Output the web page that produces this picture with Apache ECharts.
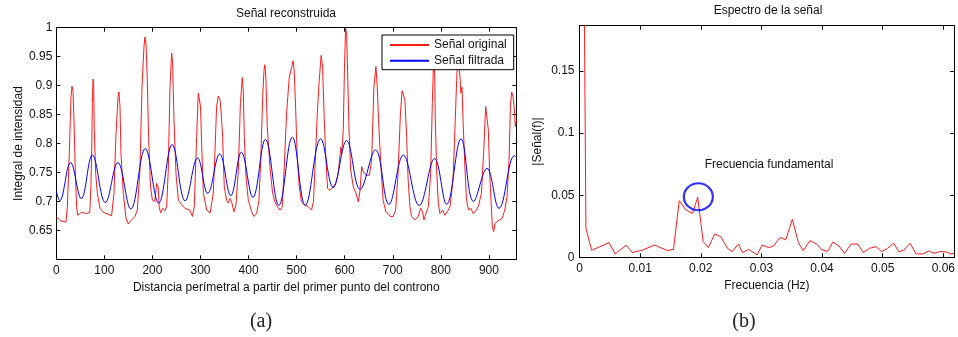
<!DOCTYPE html>
<html>
<head>
<meta charset="utf-8">
<script src="https://cdn.jsdelivr.net/npm/echarts@6/dist/echarts.min.js"></script>
<style>
html,body{margin:0;padding:0;background:#fff;}
#c{width:958px;height:337px;}
</style>
</head>
<body>
<div id="c"></div>
<script>
// ---- Left chart: reconstructed signal ----
var redX = [0,7.7,20,23,27,30.6,32.6,34.7,36.8,39.6,42.4,44.4,52.8,63,69.6,72,73.6,75,76.4,77.7,79,82,85.3,91,97.8,108,115,120,124,128.4,130.4,132.5,134.6,139.4,145,150,153,163.6,168.5,174,178.3,182.4,184.5,186.6,189.3,192,196,200,205,208.8,212,214,217,221,226,229.6,233,236.5,240,242,244.8,249,254,261,267.7,278,283,287,292,295.4,297.5,300,303,306,313,320,326.6,330,333.5,337,340.6,342.6,346,349.5,354.4,358,361.4,364.8,369.7,373.8,378.7,383,386.9,389,391.1,394.6,399.5,406.4,411.2,416.8,421.6,425.3,429.4,432.2,434,436.1,438.9,441,444.4,450,455,459.8,465.4,470,473.6,479,484.6,489.5,492.7,495,497.9,501,505.5,510,517,524,531,535,538,542.9,547,551,554,557.5,561,564.4,569.3,576,581,586.5,592,594,597,599.5,601.9,604,606,609,612.4,618,623.6,628.4,631.9,635.3,638.8,644.4,651.3,656,660.8,665,667.7,670.4,674.6,680,685.6,690.5,695,700.6,706,711,715.9,719.4,721.8,725.3,728.8,732,735.7,739,746,753,757.9,762,765,769,774,778.8,782.3,785,787,788.5,791.3,794.7,798,803.6,808.5,815.4,819,822.4,825.9,829.3,832.9,835.6,837.6,839.5,841.8,844,846.5,850,853.4,857.6,862.5,867.3,874,879,884.4,889,893.3,894.7,898.8,901.6,904.4,907.1,910,912.7,916.9,922.5,928,932.9,937.7,941.9,944.7,947.4,950.2,953,955,957];
var redY = [0.674,0.667,0.664,0.690,0.782,0.880,0.899,0.892,0.840,0.748,0.690,0.676,0.681,0.679,0.681,0.725,0.788,0.869,0.911,0.904,0.824,0.748,0.714,0.688,0.681,0.678,0.675,0.714,0.812,0.881,0.889,0.863,0.782,0.714,0.671,0.661,0.665,0.674,0.685,0.754,0.898,0.967,0.984,0.973,0.910,0.812,0.725,0.702,0.700,0.731,0.725,0.691,0.680,0.688,0.684,0.691,0.754,0.898,0.956,0.939,0.841,0.748,0.702,0.694,0.688,0.685,0.674,0.691,0.812,0.887,0.889,0.864,0.783,0.714,0.685,0.680,0.714,0.783,0.864,0.882,0.875,0.858,0.812,0.725,0.702,0.697,0.705,0.699,0.682,0.694,0.754,0.869,0.914,0.892,0.812,0.743,0.702,0.682,0.674,0.679,0.702,0.771,0.881,0.927,0.936,0.913,0.829,0.832,0.760,0.714,0.699,0.691,0.685,0.690,0.748,0.851,0.914,0.931,0.943,0.925,0.862,0.782,0.725,0.699,0.694,0.691,0.685,0.700,0.754,0.851,0.909,0.952,0.932,0.841,0.771,0.722,0.719,0.725,0.731,0.748,0.794,0.783,0.824,0.930,0.999,0.990,0.925,0.824,0.754,0.725,0.714,0.699,0.719,0.760,0.751,0.745,0.745,0.771,0.898,0.933,0.898,0.841,0.771,0.702,0.682,0.679,0.674,0.674,0.685,0.748,0.851,0.891,0.892,0.875,0.812,0.737,0.691,0.674,0.668,0.674,0.688,0.682,0.668,0.679,0.691,0.748,0.869,0.945,0.930,0.841,0.754,0.697,0.679,0.685,0.676,0.685,0.691,0.714,0.748,0.824,0.909,0.960,0.930,0.920,0.887,0.897,0.835,0.760,0.702,0.685,0.688,0.679,0.685,0.694,0.714,0.783,0.864,0.866,0.824,0.748,0.702,0.656,0.648,0.662,0.665,0.668,0.671,0.685,0.708,0.771,0.864,0.889,0.881,0.858,0.829,0.840];
var blueX = [0,7,29.6,52,75,102,128,155,185,213,241,268,294,315,340,363,385,409,435,463,491,518,550,576,604,632,664,692,722,755,787,812,842,868,896,921,953,957];
var blueY = [0.718,0.701,0.767,0.705,0.780,0.698,0.767,0.687,0.791,0.697,0.798,0.701,0.775,0.714,0.782,0.710,0.785,0.707,0.807,0.693,0.811,0.693,0.808,0.724,0.805,0.721,0.789,0.695,0.780,0.693,0.774,0.695,0.808,0.700,0.757,0.688,0.779,0.776];

// ---- Right chart: spectrum ----
var freq = [0,0.00106,0.00200,0.00488,0.00586,0.0077,0.0087,0.01045,0.01236,0.0145,0.0155,0.01645,0.01754,0.01863,0.0195,0.0204,0.02125,0.0223,0.0233,0.0244,0.0252,0.0262,0.0269,0.0279,0.0293,0.0301,0.0312,0.0320,0.0331,0.0340,0.0351,0.0361,0.0369,0.0380,0.0391,0.0399,0.0409,0.0418,0.0428,0.0437,0.0448,0.0459,0.0468,0.0478,0.0489,0.0498,0.0508,0.0518,0.0527,0.0535,0.0545,0.0555,0.0566,0.0576,0.0585,0.0594,0.0605,0.0612,0.0618];
var mag = [0.74,0.0233,0.0056,0.0118,0.0027,0.0097,0.0038,0.0059,0.0099,0.0054,0.0064,0.0456,0.0381,0.0354,0.0483,0.0126,0.0078,0.0188,0.0166,0.0072,0.0046,0.0107,0.0038,0.0064,0.0019,0.0099,0.0078,0.0091,0.0161,0.014,0.0306,0.0118,0.0054,0.0134,0.0107,0.0064,0.0046,0.0123,0.0091,0.0032,0.0107,0.0107,0.0038,0.0072,0.0086,0.0046,0.0072,0.0113,0.0043,0.0059,0.0113,0.0027,0.0027,0.0051,0.0032,0.0046,0.0043,0.0027,0.0032];
var fundamental = [0.0196, 0.0488];

var seriesNames = ['Señal original', 'Señal filtrada'];
var titles = ['Señal reconstruida', 'Espectro de la señal'];
var xNames = ['Distancia perímetral a partir del primer punto del controno', 'Frecuencia (Hz)'];
var yNames = ['Integral de intensidad', '|Señal(f)|'];
var annotationText = 'Frecuencia fundamental';
var panelLabels = ['(a)', '(b)'];

function pairs(xs, ys){ var o=[]; for (var i=0;i<xs.length;i++) o.push([xs[i], ys[i]]); return o; }

var FONT = 'Liberation Sans, Arial, Helvetica, sans-serif';
var TXT = '#111';
function axisBase(extra){
  var a = {
    type:'value', splitLine:{show:false},
    axisLine:{show:true, onZero:false, lineStyle:{color:'#000', width:1}},
    axisTick:{show:true, inside:true, length:4, lineStyle:{color:'#000'}},
    axisLabel:{color:TXT, fontSize:12, fontFamily:FONT, margin:5}
  };
  for (var k in extra) a[k]=extra[k];
  return a;
}

var chart = echarts.init(document.getElementById('c'), null, {renderer:'canvas'});
var option = {
  animation:false,
  backgroundColor:'#fff',
  textStyle:{fontFamily:FONT},
  grid:[
    {left:56.3, top:27.7, width:460, height:231.6},
    {left:579.5, top:25.7, width:377.5, height:231.6}
  ],
  xAxis:[
    axisBase({gridIndex:0, min:0, max:957, interval:100, position:'bottom',
      axisLabel:{color:TXT, fontSize:12, fontFamily:FONT, margin:5, showMaxLabel:false},
      name:xNames[0], nameLocation:'middle', nameGap:18, nameTextStyle:{color:TXT, fontSize:12, fontFamily:FONT}}),
    axisBase({gridIndex:0, min:0, max:957, interval:100, position:'top', axisLabel:{show:false}}),
    axisBase({gridIndex:1, min:0, max:0.0618, interval:0.01, position:'bottom',
      axisLabel:{color:TXT, fontSize:12, fontFamily:FONT, margin:5, showMaxLabel:false},
      name:xNames[1], nameLocation:'middle', nameGap:20, nameTextStyle:{color:TXT, fontSize:12, fontFamily:FONT}}),
    axisBase({gridIndex:1, min:0, max:0.0618, interval:0.01, position:'top', axisLabel:{show:false}})
  ],
  yAxis:[
    axisBase({gridIndex:0, min:0.6, max:1, interval:0.05, position:'left',
      axisLabel:{color:TXT, fontSize:12, fontFamily:FONT, margin:4, showMinLabel:false},
      name:yNames[0], nameLocation:'middle', nameGap:32, nameRotate:90, nameTextStyle:{color:TXT, fontSize:12, fontFamily:FONT}}),
    axisBase({gridIndex:0, min:0.6, max:1, interval:0.05, position:'right', axisLabel:{show:false}}),
    axisBase({gridIndex:1, min:0, max:0.1865, interval:0.05, position:'left',
      axisLabel:{color:TXT, fontSize:12, fontFamily:FONT, margin:5, showMaxLabel:false},
      name:yNames[1], nameLocation:'middle', nameGap:36, nameRotate:90, nameTextStyle:{color:TXT, fontSize:12, fontFamily:FONT}}),
    axisBase({gridIndex:1, min:0, max:0.1865, interval:0.05, position:'right', axisLabel:{show:false}})
  ],
  legend:{
    data:seriesNames, selectedMode:false, orient:'vertical',
    left:382, top:35, itemWidth:39, itemHeight:14, itemGap:3.7,
    padding:[4,7,3,7], borderColor:'#000', borderWidth:1, backgroundColor:'#fff',
    itemStyle:{opacity:0},
    textStyle:{color:TXT, fontSize:12, fontFamily:FONT}, z:10
  },
  series:[
    {name:seriesNames[0], type:'line', xAxisIndex:0, yAxisIndex:0, data:pairs(redX, redY),
     symbol:'none', lineStyle:{color:'#ff1a1a', width:1}, itemStyle:{color:'#ff1a1a'}, z:2},
    {name:seriesNames[1], type:'line', xAxisIndex:0, yAxisIndex:0, data:pairs(blueX, blueY),
     symbol:'none', smooth:0.4, lineStyle:{color:'#0000ff', width:1}, itemStyle:{color:'#0000ff'}, z:3},
    {name:'spectrum', type:'line', xAxisIndex:2, yAxisIndex:2, data:pairs(freq, mag),
     symbol:'none', lineStyle:{color:'#ff1a1a', width:1}, itemStyle:{color:'#ff1a1a'}},
    {name:'fund', type:'scatter', xAxisIndex:2, yAxisIndex:2, data:[fundamental], silent:true,
     symbol:'circle', symbolSize:[29,27],
     itemStyle:{color:'rgba(0,0,0,0)', borderColor:'#0000ff', borderWidth:2.2}, z:4}
  ],
  graphic:[
    {type:'text', x:286, y:14, style:{text:titles[0], font:'12px '+FONT, fill:TXT, align:'center', verticalAlign:'middle', textAlign:'center', textVerticalAlign:'middle'}},
    {type:'text', x:768, y:11, style:{text:titles[1], font:'12px '+FONT, fill:TXT, align:'center', verticalAlign:'middle', textAlign:'center', textVerticalAlign:'middle'}},
    {type:'text', x:769, y:165, style:{text:annotationText, font:'12px '+FONT, fill:TXT, align:'center', verticalAlign:'middle', textAlign:'center', textVerticalAlign:'middle'}},
    {type:'text', x:261, y:322, style:{text:panelLabels[0], font:'20px Liberation Serif, DejaVu Serif, serif', fill:'#222', align:'center', verticalAlign:'middle', textAlign:'center', textVerticalAlign:'middle'}},
    {type:'text', x:744, y:322, style:{text:panelLabels[1], font:'20px Liberation Serif, DejaVu Serif, serif', fill:'#222', align:'center', verticalAlign:'middle', textAlign:'center', textVerticalAlign:'middle'}}
  ]
};
chart.setOption(option);
</script>
</body>
</html>
